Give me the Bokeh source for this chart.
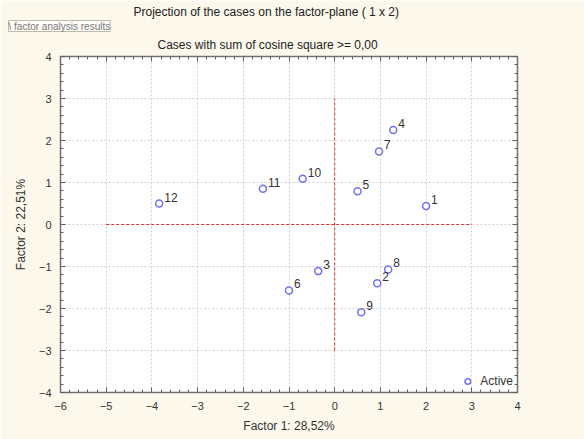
from bokeh.plotting import figure
from bokeh.models import (FixedTicker, LinearAxis, Legend, LegendItem, Title,
                          ColumnDataSource, Range1d)
from bokeh.embed import file_html
from bokeh.resources import INLINE

# ---- data ----
case_ids = ["1", "2", "3", "4", "5", "6", "7", "8", "9", "10", "11", "12"]
factor1 = [2.00, 0.93, -0.36, 1.28, 0.50, -1.00, 0.97, 1.17, 0.58, -0.70, -1.57, -3.84]
factor2 = [0.44, -1.40, -1.11, 2.25, 0.79, -1.57, 1.74, -1.07, -2.09, 1.09, 0.85, 0.50]
x_ticks = [-6, -5, -4, -3, -2, -1, 0, 1, 2, 3, 4]
y_ticks = [-4, -3, -2, -1, 0, 1, 2, 3, 4]
cross_h_x = [-5, 3]   # horizontal reference line extent (at y=0)
cross_v_y = [-3, 3]   # vertical reference line extent (at x=0)
title1 = "Projection of the cases on the factor-plane ( 1 x  2)"
title2 = "Cases with sum of cosine square >=  0,00"
x_label = "Factor 1: 28,52%"
y_label = "Factor 2: 22,51%"
legend_text = "Active"
tag_text = "\\ factor analysis results"

FONT = "Liberation Sans"
CREAM = "#fdf8ec"
PT = "#7272ee"

p = figure(width=584, height=439, output_backend="svg", toolbar_location=None,
           x_range=Range1d(-6, 4), y_range=Range1d(-4, 4),
           min_border_left=60, min_border_right=67, min_border_top=56,
           min_border_bottom=47, x_axis_location=None, y_axis_location=None)
p.background_fill_color = "white"
p.border_fill_color = CREAM
p.outline_line_color = "#707070"
p.outline_line_width = 1.5


def minor(ticks):
    out = []
    for a, b in zip(ticks[:-1], ticks[1:]):
        for k in range(1, 5):
            out.append(a + (b - a) * k / 5)
    return out


xt = FixedTicker(ticks=x_ticks, minor_ticks=minor(x_ticks))
yt = FixedTicker(ticks=y_ticks, minor_ticks=minor(y_ticks))


def style_axis(ax, show_labels):
    ax.axis_line_color = "#707070"
    ax.major_tick_in = 5
    ax.major_tick_out = 0
    ax.minor_tick_in = 3
    ax.minor_tick_out = 0
    ax.major_tick_line_color = "#606060"
    ax.minor_tick_line_color = "#606060"
    ax.major_label_text_font = FONT
    ax.major_label_text_font_size = "11px"
    ax.major_label_text_color = "#333333"
    ax.axis_label_text_font = FONT
    ax.axis_label_text_font_size = "12px"
    ax.axis_label_text_font_style = "normal"
    ax.axis_label_text_color = "#333333"
    if not show_labels:
        ax.major_label_text_alpha = 0
        ax.major_label_text_font_size = "1px"


xb = LinearAxis(ticker=xt, axis_label=x_label)
style_axis(xb, True)
xb.major_label_standoff = 9
xb.axis_label_standoff = 6
p.add_layout(xb, "below")
xa = LinearAxis(ticker=xt)
style_axis(xa, False)
xa.major_label_standoff = 0
p.add_layout(xa, "above")

yl = LinearAxis(ticker=yt, axis_label=y_label)
style_axis(yl, True)
yl.major_label_standoff = 9
yl.axis_label_standoff = 8
p.add_layout(yl, "left")
yr = LinearAxis(ticker=yt)
style_axis(yr, False)
yr.major_label_standoff = 0
p.add_layout(yr, "right")

p.xgrid.ticker = xt
p.ygrid.ticker = yt
for g in (p.xgrid, p.ygrid):
    g.grid_line_color = "#cfcfcf"
    g.grid_line_dash = "2 2"
    g.grid_line_width = 1

# red reference cross
p.line(x=cross_h_x, y=[0, 0], line_color="#e03030", line_dash="3 2", line_width=1)
p.line(x=[0, 0], y=cross_v_y, line_color="#e03030", line_dash="3 2", line_width=1)

src = ColumnDataSource(dict(x=factor1, y=factor2, t=case_ids))
pts = p.scatter("x", "y", source=src, size=7, marker="circle", fill_color="white",
                line_color=PT, line_width=1.5)
p.text("x", "y", text="t", source=src, x_offset=5, y_offset=-2,
       text_font_size="12px", text_color="#333333", text_baseline="bottom",
       text_align="left", text_font={"value": FONT})

legend = Legend(items=[LegendItem(label=legend_text, renderers=[pts])],
                location="bottom_right", orientation="vertical")
legend.background_fill_alpha = 0
legend.border_line_alpha = 0
legend.padding = 0
legend.margin = 4
legend.glyph_width = 14
legend.glyph_height = 14
legend.label_standoff = 6
legend.label_text_font = FONT
legend.label_text_font_size = "12px"
legend.label_text_color = "#333333"
p.add_layout(legend, "center")

# titles stacked above the frame (first added = closest to the frame)
t2 = Title(text=title2, align="left", offset=97, standoff=9, text_font=FONT,
           text_font_size="12px", text_font_style="normal", text_color="#222222")
tag = Title(text=tag_text, align="left", offset=-52, standoff=0, text_font=FONT,
            text_font_size="10px", text_font_style="normal", text_color="#777777",
            border_line_color="#bbbbaa", background_fill_color="#fffdf6")
t1 = Title(text=title1, align="left", offset=73, standoff=0, text_font=FONT,
           text_font_size="12px", text_font_style="normal", text_color="#222222")
p.add_layout(t2, "above")
p.add_layout(tag, "above")
p.add_layout(t1, "above")

open("out.html", "w").write(file_html(p, INLINE))
